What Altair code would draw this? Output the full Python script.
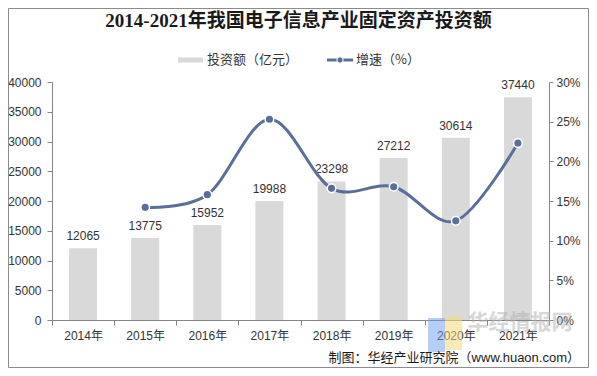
import altair as alt
import pandas as pd

years = ["2014年", "2015年", "2016年", "2017年", "2018年", "2019年", "2020年", "2021年"]
invest = [12065, 13775, 15952, 19988, 23298, 27212, 30614, 37440]
growth = [None, 14.2, 15.8, 25.3, 16.6, 16.8, 12.5, 22.3]

title_text = "2014-2021年我国电子信息产业固定资产投资额"
legend_bar = "投资额（亿元）"
legend_line = "增速（%）"
source_text = "制图：华经产业研究院（www.huaon.com）"

df = pd.DataFrame({"year": years, "invest": invest, "growth": growth})

LAT = "Liberation Sans"
CJK = "Noto Sans CJK SC"
AX = "#868686"
TXT = "#333333"
BAR = "#D9D9D9"
LINE = "#5A6E9B"

xenc = alt.X(
    "year:N", sort=years,
    scale=alt.Scale(paddingInner=0, paddingOuter=0),
    axis=alt.Axis(title=None, labelAngle=0, tickBand="extent", domainColor=AX,
                  tickColor=AX, tickSize=5, labelPadding=5, labelFontSize=12,
                  labelFont=LAT + ", " + CJK, labelColor=TXT, grid=False,
                  labelOverlap=False),
)

ybar = alt.Y("invest:Q", scale=alt.Scale(domain=[0, 40000], nice=False),
             axis=alt.Axis(title=None, orient="left", values=list(range(0, 40001, 5000)),
                           format="d", grid=False, domainColor=AX, tickColor=AX,
                           tickSize=5, labelPadding=6, labelFontSize=12, labelFont=LAT,
                           labelColor=TXT, labelOverlap=False, labelBound=False,
                           labelFlush=False))

bars = alt.Chart(df).mark_bar(color=BAR, width=alt.RelativeBandSize(0.45)).encode(
    x=xenc, y=ybar)
bar_labels = alt.Chart(df).mark_text(dy=-12, font=LAT, fontSize=12, color=TXT).encode(
    x=xenc, y=ybar, text=alt.Text("invest:Q", format="d"))

line_df = df.dropna()
yline = alt.Y("growth:Q", scale=alt.Scale(domain=[0, 30], nice=False),
              axis=alt.Axis(title=None, orient="right", values=[0, 5, 10, 15, 20, 25, 30],
                            labelExpr="datum.value + '%'", grid=False, domainColor=AX,
                            tickColor=AX, tickSize=4, labelPadding=3, labelFontSize=12,
                            labelFont=LAT, labelColor=TXT, labelOverlap=False,
                            labelBound=False, labelFlush=False))
line = alt.Chart(line_df).mark_line(color=LINE, strokeWidth=3, interpolate="cardinal").encode(
    x=xenc, y=yline)
points = alt.Chart(line_df).mark_point(filled=True, fill=LINE, stroke="white",
                                       strokeWidth=1.5, size=75, opacity=1).encode(
    x=xenc, y=yline)

one = alt.Data(values=[{}])

# Page coords -> plot coords: subtract (52, 82)
frame = alt.Chart(one).mark_rect(fill=None, stroke="#8C8C8C", strokeWidth=1).encode(
    x=alt.value(-43.5), x2=alt.value(536.5), y=alt.value(-73.5), y2=alt.value(285.5))

title = alt.Chart(one).mark_text(font="Liberation Serif, " + CJK, fontSize=19,
                                 fontWeight="bold", color="#1a1a1a",
                                 align="center", baseline="middle").encode(
    x=alt.value(246.5), y=alt.value(-61), text=alt.value(title_text))

leg_rect = alt.Chart(one).mark_rect(color=BAR).encode(
    x=alt.value(126), x2=alt.value(151), y=alt.value(-24.5), y2=alt.value(-19.5))
leg_t1 = alt.Chart(one).mark_text(font=CJK, fontSize=13, color=TXT, align="left",
                                  baseline="middle").encode(
    x=alt.value(155), y=alt.value(-22), text=alt.value(legend_bar))
leg_line = alt.Chart(one).mark_rule(color=LINE, strokeWidth=3).encode(
    x=alt.value(275), x2=alt.value(301), y=alt.value(-22))
leg_pt = alt.Chart(one).mark_point(filled=True, fill=LINE, stroke="white", strokeWidth=1,
                                   size=40, opacity=1).encode(
    x=alt.value(288), y=alt.value(-22))
leg_t2 = alt.Chart(one).mark_text(font=CJK, fontSize=13, color=TXT, align="left",
                                  baseline="middle").encode(
    x=alt.value(304), y=alt.value(-22), text=alt.value(legend_line))

wm_blue = alt.Chart(one).mark_rect(color="#6E9BEB", opacity=0.5).encode(
    x=alt.value(376), x2=alt.value(393), y=alt.value(236), y2=alt.value(270))
wm_yel = alt.Chart(one).mark_rect(color="#F3DA78", opacity=0.55).encode(
    x=alt.value(393), x2=alt.value(410), y=alt.value(234), y2=alt.value(268))
wm_t1 = alt.Chart(one).mark_text(font=CJK, fontSize=21, fontWeight="bold", color="#B0B0B0",
                                 opacity=0.5, align="center", baseline="middle").encode(
    x=alt.value(468), y=alt.value(241), text=alt.value("华经情报网"))

source = alt.Chart(one).mark_text(font=LAT + ", " + CJK, fontSize=13, color="#1a1a1a",
                                  align="right", baseline="middle").encode(
    x=alt.value(528), y=alt.value(276), text=alt.value(source_text))

chart = alt.layer(
    alt.layer(bars, bar_labels),
    alt.layer(line, points),
    frame, title, leg_rect, leg_t1, leg_line, leg_pt, leg_t2,
    wm_blue, wm_yel, wm_t1, source,
).resolve_scale(y="independent").properties(
    width=497, height=238,
    autosize=alt.AutoSizeParams(type="none"),
    padding={"left": 44, "top": 74, "right": 40, "bottom": 48},
    background="white",
).configure_view(stroke=None)

chart.save("out.html", embed_options={"renderer": "svg", "actions": False})
